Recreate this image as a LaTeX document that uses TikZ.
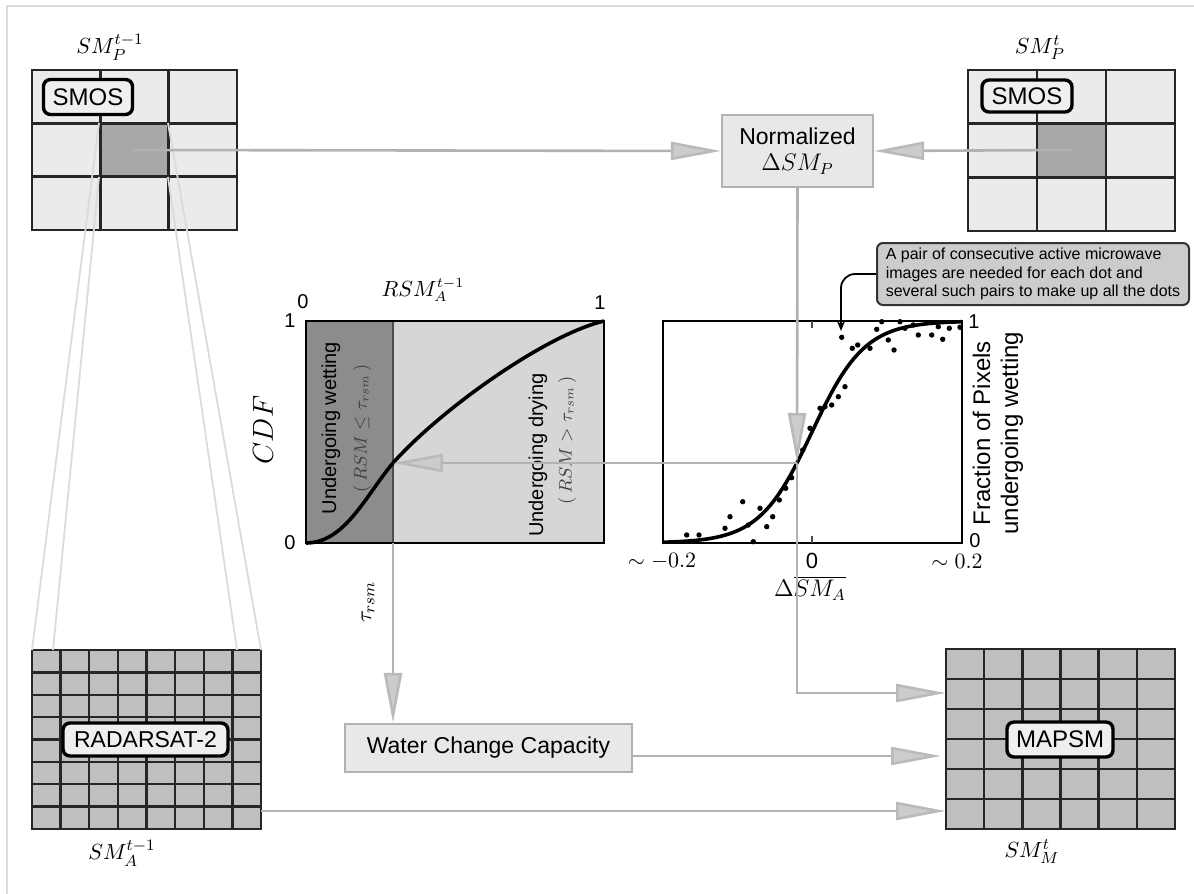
\documentclass[tikz,border=0pt]{standalone}
\usepackage{fontspec}
\setmainfont{Liberation Sans}
\usepackage{tikz}
\usetikzlibrary{arrows.meta,calc}
\definecolor{cellLight}{gray}{0.92}
\definecolor{cellDark}{gray}{0.66}
\definecolor{cellMid}{gray}{0.75}
\definecolor{flowGray}{gray}{0.70}
\definecolor{headGray}{gray}{0.80}
\definecolor{boxGray}{gray}{0.91}
\definecolor{cdfDark}{gray}{0.55}
\definecolor{cdfLight}{gray}{0.84}
\definecolor{noteGray}{gray}{0.80}
\definecolor{frameGray}{gray}{0.86}
\tikzset{
	flow/.style={draw=flowGray, line width=1.3pt, -{Triangle[length=25pt,width=9pt,fill=headGray,color=flowGray!90]}},
	flowline/.style={draw=flowGray, line width=1.3pt},
	proj/.style={draw=frameGray, line width=0.9pt},
	gridline/.style={draw=black!85, line width=1.2pt},
	lbl/.style={draw=black, line width=1.7pt, rounded corners=3.5pt, fill=boxGray!70, inner sep=1pt, font=\fontsize{12}{14}\selectfont},
	procbox/.style={draw=flowGray, line width=1.1pt, fill=boxGray, inner sep=2pt, align=center, font=\fontsize{11.5}{14}\selectfont},
	mathlbl/.style={font=\fontsize{11}{13}\selectfont},
	tick/.style={font=\fontsize{10}{12}\selectfont, inner sep=0pt},
}
\begin{document}
\begin{tikzpicture}[x=0.5pt, y=-0.5pt]
			%%%%% START %%%%%
			\useasboundingbox (0,0) rectangle (1194,894);
			\draw[frameGray, line width=1.2pt] (7,900) -- (7,6) -- (1200,6);
			
			% SMOS at t-1
			\fill[cellLight] (32,70) rectangle (237,230);
			\fill[cellDark] (99,123) rectangle (168,177);
			\foreach \i in {1,2} {
				\draw[gridline] ({32+\i*68.33},70) -- ++(0,160);
				\draw[gridline] (32,{70+\i*53.33}) -- ++(205,0);
			}
			\draw[gridline] (32,70) rectangle (237,230);
			\node[lbl, minimum width=44.5pt, minimum height=17.5pt] (smosA) at (88,97) {SMOS};
			\node[mathlbl] (smA) at (110,47) {$SM_P^{t-1}$};
			\coordinate (cellA) at (133,150);
			
			% SMOS at t
			\fill[cellLight] (968,70) rectangle (1175,231);
			\fill[cellDark] (1038,123) rectangle (1107,177);
			\foreach \i in {1,2} {
				\draw[gridline] ({968+\i*69},70) -- ++(0,161);
				\draw[gridline] (968,{70+\i*53.67}) -- ++(207,0);
			}
			\draw[gridline] (968,70) rectangle (1175,231);
			\node[lbl, minimum width=45pt, minimum height=16pt] (smosB) at (1027,96) {SMOS};
			\node[mathlbl] (smB) at (1040,48) {$SM_P^{t}$};
			\coordinate (cellB) at (1072,150);
			
			% RADARSAT-2
			\fill[cellMid] (32,650) rectangle (261,829);
			\foreach \i in {1,...,7} {
				\draw[gridline] ({32+\i*28.625},650) -- ++(0,179);
				\draw[gridline] (32,{650+\i*22.375}) -- ++(229,0);
			}
			\draw[gridline] (32,650) rectangle (261,829);
			\node[lbl, minimum width=82.5pt, minimum height=16.5pt, font=\fontsize{11.5}{14}\selectfont] (radar) at (145.5,739.5) {RADARSAT-2};
			\node[mathlbl] (smC) at (122,853) {$SM_A^{t-1}$};
			\coordinate (radarOut) at (261,811);
			
			\draw[proj] (99,123) -- (32,650);
			\draw[proj] (99,177) -- (53,650);
			\draw[proj] (168,123) -- (261,650);
			\draw[proj] (168,177) -- (237,650);
			
			% MAPSM
			\fill[cellMid] (946,649) rectangle (1175,829);
			\foreach \i in {1,...,5} {
				\draw[gridline] ({946+\i*38.17},649) -- ++(0,180);
				\draw[gridline] (946,{649+\i*30}) -- ++(229,0);
			}
			\draw[gridline] (946,649) rectangle (1175,829);
			\node[lbl, minimum width=53pt, minimum height=17.5pt] (mapsm) at (1060,739.5) {MAPSM};
			\node[mathlbl] (smD) at (1032,852) {$SM_M^{t}$};
			\coordinate (mIn1) at (946,693);
			\coordinate (mIn2) at (941,756);
			\coordinate (mIn3) at (946,811);
			
			% CDF plot
			\fill[cdfLight] (306,321) rectangle (604,543);
			\fill[cdfDark] (306,321) rectangle (393,543);
			\draw[black!70, line width=0.6pt] (393,321) -- (393,543);
			\draw[black, line width=1.2pt] (306,321) rectangle (604,543);
			\draw[black, line width=1.8pt] (306,543) .. controls (345,543) and (366,495) .. (393,463)
				.. controls (440,410) and (545,335) .. (604,321);
			\node[rotate=90, font=\fontsize{10}{12}\selectfont, inner sep=0pt] (wet) at (331,428) {Undergoing wetting};
			\node[rotate=90, font=\fontsize{9}{11}\selectfont, inner sep=0pt, text=black!75] (wetR) at (362,428) {$(\,RSM \leq \tau_{rsm}\,)$};
			\node[rotate=90, font=\fontsize{10}{12}\selectfont, inner sep=0pt] (dry) at (538,455) {Undergoing drying};
			\node[rotate=90, font=\fontsize{9}{11}\selectfont, inner sep=0pt, text=black!75] (dryR) at (567,440) {$(\,RSM > \tau_{rsm}\,)$};
			\node[tick] (cdfY1) at (290,321) {1};
			\node[tick] (cdfY0) at (290,543) {0};
			\node[tick] (cdfX0) at (303,302) {0};
			\node[tick] (cdfX1) at (600,303) {1};
			\node[font=\fontsize{10.5}{12}\selectfont] (rsmA) at (423,290) {$RSM_A^{t-1}$};
			\node[rotate=90, font=\fontsize{14}{16}\selectfont] (cdf) at (263,430) {$CDF$};
			\coordinate (cdfHit) at (393,463);
			\coordinate (cdfFoot) at (393,543);
			
			% fraction plot
			\fill[white] (663,321) rectangle (962,543);
			\draw[black, line width=1.2pt] (663,321) rectangle (962,543);
			\draw[black!70, line width=0.6pt] (812,321) -- ++(0,7) (812,543) -- ++(0,-7);
			\foreach \u/\v in {686.7/535,699/535,725/528.3,730/516.7,742.7/501.7,753.3/541.7,760/508.3,
				766.7/526.7,772.7/516.7,748.3/525,779.3/500,785.7/488.3,791.7/477.7,796.7/435,
				802.7/450,810/428.3,820/408.3,825/406.7,831.7/405,838.3/396.7,845/386.7,841.7/337.3,
				852.3/348.3,857.7/345,870/348.3,876.7/329.3,881.7/321.7,888.3/340,894/350,905/328.3,
				913.3/325,918.3/335,931.7/335,938.3/326.7,942.7/339.3,949.3/328.3,960/327.3,900/321.7}
				\fill[black] (\u,\v) circle[radius=2.7];
			\draw[black, line width=1.8pt] plot[domain=663:962, samples=90, smooth] (\x,{543-222/(1+exp(-0.038*(\x-812)))});
			\node[tick] (frY1) at (974,322) {1};
			\node[tick] (frY0) at (975,541) {0};
			\node[mathlbl] (frXm) at (662,561) {$\sim -0.2$};
			\node[tick, font=\fontsize{11}{13}\selectfont] (frX0) at (812,561) {0};
			\node[mathlbl] (frXp) at (957,561) {$\sim 0.2$};
			\node[font=\fontsize{12}{14}\selectfont] (dSMA) at (810,588) {$\Delta\overline{SM_A}$};
			\node[rotate=90, font=\fontsize{12}{14}\selectfont, align=center, inner sep=0pt] (frac) at (998,433) {Fraction of Pixels\\undergoing wetting};
			\coordinate (hit) at (797,463);
			\coordinate (turn) at (797,693);
			\coordinate (dotTarget) at (841,331);
			
			% boxes
			\node[procbox, minimum width=75.5pt, minimum height=36pt] (norm) at (797.5,151) {Normalized\\[-1pt]$\Delta SM_P$};
			\node[procbox, minimum width=143.5pt, minimum height=24pt] (wcc) at (488.5,748) {Water Change Capacity};
			\node[draw=black!80, line width=1pt, rounded corners=3pt, fill=noteGray, inner sep=1.5pt, align=left,
				minimum width=156pt, minimum height=31pt, font=\fontsize{8}{9.4}\selectfont] (note) at (1033,274)
				{A pair of consecutive active microwave\\images are needed for each dot and\\several such pairs to make up all the dots};
			
			% connectors
			\draw[flow] (cellA) -- (norm.west);
			\draw[flow] (cellB) -- (norm.east);
			\draw[flow] (norm.south) -- (hit);
			\draw[flow] (hit) -- (turn) -- (mIn1);
			\draw[flow] (hit) -- (cdfHit);
			\draw[flow] (cdfFoot) -- (cdfFoot |- wcc.north);
			\node[rotate=90, font=\fontsize{11}{13}\selectfont] (tau) at (368,602) {$\tau_{rsm}$};
			\draw[flow] ([yshift=-4pt]wcc.east) -- (mIn2);
			\draw[flow] (radarOut) -- (mIn3);
			\draw[black, line width=0.9pt, rounded corners=7pt, -{Stealth[length=5pt,width=4pt]}] (note.west) -| (dotTarget);
			
			%%%%% END %%%%%
		\end{tikzpicture}
\end{document}
